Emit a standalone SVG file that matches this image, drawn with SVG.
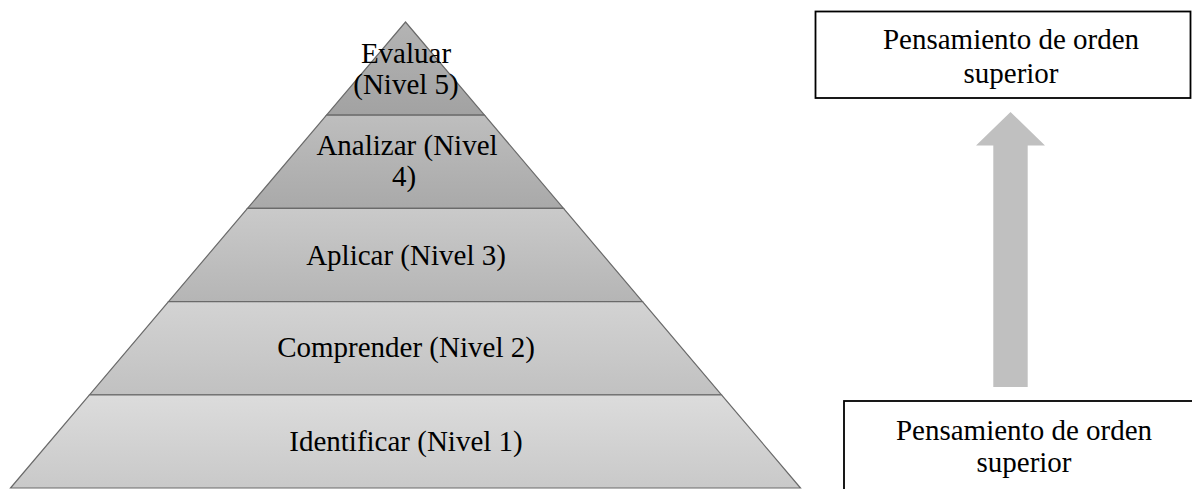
<svg xmlns="http://www.w3.org/2000/svg" width="1192" height="489" viewBox="0 0 1192 489">
<style>
.t{font-family:"Liberation Serif","Times New Roman",serif;font-size:29px;fill:#000;text-anchor:middle}
.band{stroke:#6a6a6a;stroke-width:1.2}
.box{fill:#fff;stroke:#000;stroke-width:1.8}
</style>
<defs>
<linearGradient id="g5" x1="0" y1="0" x2="0" y2="1"><stop offset="0" stop-color="#b4b4b4"/><stop offset="1" stop-color="#a2a2a2"/></linearGradient>
<linearGradient id="g4" x1="0" y1="0" x2="0" y2="1"><stop offset="0" stop-color="#bebebe"/><stop offset="1" stop-color="#a9a9a9"/></linearGradient>
<linearGradient id="g3" x1="0" y1="0" x2="0" y2="1"><stop offset="0" stop-color="#cacaca"/><stop offset="1" stop-color="#b5b5b5"/></linearGradient>
<linearGradient id="g2" x1="0" y1="0" x2="0" y2="1"><stop offset="0" stop-color="#d3d3d3"/><stop offset="1" stop-color="#c1c1c1"/></linearGradient>
<linearGradient id="g1" x1="0" y1="0" x2="0" y2="1"><stop offset="0" stop-color="#dcdcdc"/><stop offset="1" stop-color="#c9c9c9"/></linearGradient>
</defs>
<g id="level5">
<polygon class="band" fill="url(#g5)" points="405.5,22 484.5,115.2 326.5,115.2"/>
<text class="t" x="406" y="63">Evaluar</text>
<text class="t" x="406" y="94">(Nivel 5)</text>
</g>
<g id="level4">
<polygon class="band" fill="url(#g4)" points="326.5,115.2 484.5,115.2 563.5,208.4 247.5,208.4"/>
<text class="t" x="407" y="155">Analizar (Nivel</text>
<text class="t" x="404" y="186">4)</text>
</g>
<g id="level3">
<polygon class="band" fill="url(#g3)" points="247.5,208.4 563.5,208.4 642.5,301.6 168.5,301.6"/>
<text class="t" x="406" y="265">Aplicar (Nivel 3)</text>
</g>
<g id="level2">
<polygon class="band" fill="url(#g2)" points="168.5,301.6 642.5,301.6 721.5,394.8 89.5,394.8"/>
<text class="t" x="406" y="357">Comprender (Nivel 2)</text>
</g>
<g id="level1">
<polygon class="band" fill="url(#g1)" points="89.5,394.8 721.5,394.8 800.5,488 10.5,488"/>
<text class="t" x="406" y="450.5">Identificar (Nivel 1)</text>
</g>
<g id="connectors">
<polygon fill="#c0c0c0" points="1010.5,112 1045,145.5 1027.7,145.5 1027.7,387 993.3,387 993.3,145.5 976,145.5"/>
</g>
<g id="top-box">
<rect class="box" x="815.5" y="11.5" width="375" height="86.5"/>
<text class="t" x="1011" y="49">Pensamiento de orden</text>
<text class="t" x="1011" y="83">superior</text>
</g>
<g id="bottom-box">
<rect class="box" x="844" y="401" width="400" height="200"/>
<text class="t" x="1024" y="440">Pensamiento de orden</text>
<text class="t" x="1024" y="472">superior</text>
</g>
</svg>
